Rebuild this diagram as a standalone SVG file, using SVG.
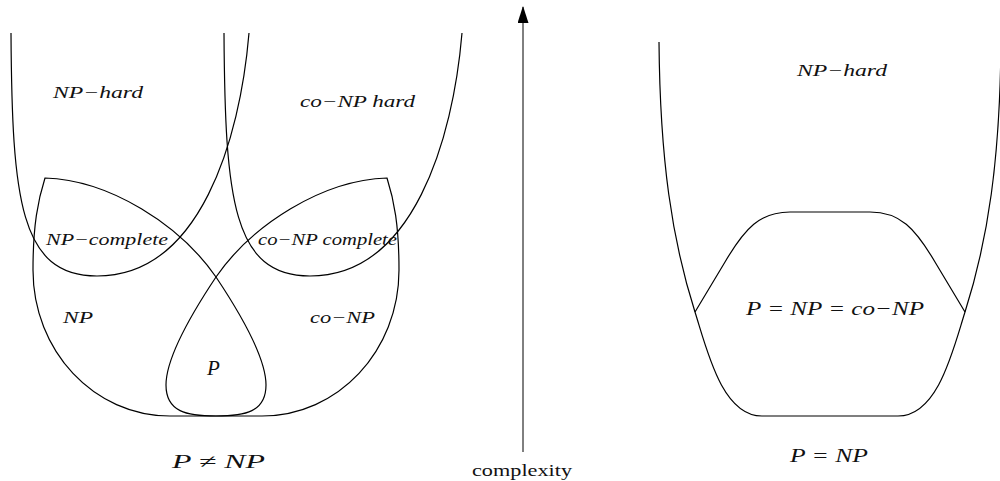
<svg xmlns="http://www.w3.org/2000/svg" width="1000" height="481" viewBox="0 0 1000 481">
<style>
.c{fill:none;stroke:#000;stroke-width:1.2}
.m{font-family:"Liberation Serif","DejaVu Serif",serif;font-style:italic;fill:#111}
.r{font-family:"Liberation Serif","DejaVu Serif",serif;fill:#111}
</style>
<defs>
<marker id="ah" markerWidth="17" markerHeight="11" refX="16" refY="5.5" orient="auto" markerUnits="userSpaceOnUse" viewBox="0 0 17 11">
<path d="M0,0 L17,5.5 L0,11 Z" fill="#000"/>
</marker>
</defs>
<rect width="1000" height="481" fill="#fff"/>
<g id="left-diagram">
<g id="np-hard">
<path class="c" d="M11,33 C12,200 20,276 97,276 C200,276 240,140 249,33"/>
<text class="m" x="53" y="98" font-size="16" textLength="90" lengthAdjust="spacingAndGlyphs">NP−hard</text>
</g>
<g id="conp-hard">
<path class="c" d="M224,33 C225,200 233,276 310,276 C413,276 453,140 462,33"/>
<text class="m" x="300" y="107" font-size="16" textLength="115" lengthAdjust="spacingAndGlyphs">co−NP hard</text>
</g>
<g id="np">
<path class="c" d="M45,178 C110,180 180,225 216,277 C236,307 266,355 266,385 C266,412 245,416 216,416 L170,416 C94,416 33,351 33,270 C33,225 38,200 45,178 Z"/>
<text class="m" x="63" y="323" font-size="17.5" textLength="30" lengthAdjust="spacingAndGlyphs">NP</text>
</g>
<g id="conp">
<path class="c" d="M387,178 C322,180 252,225 216,277 C196,307 166,355 166,385 C166,412 187,416 216,416 L262,416 C338,416 399,351 399,270 C399,225 394,200 387,178 Z"/>
<text class="m" x="310" y="323" font-size="17.5" textLength="65" lengthAdjust="spacingAndGlyphs">co−NP</text>
</g>
<g id="np-complete">
<text class="m" x="46" y="245" font-size="17.5" textLength="122" lengthAdjust="spacingAndGlyphs">NP−complete</text>
</g>
<g id="conp-complete">
<text class="m" x="258" y="245" font-size="17.5" textLength="139" lengthAdjust="spacingAndGlyphs">co−NP complete</text>
</g>
<g id="p">
<text class="m" x="207" y="375" font-size="21">P</text>
</g>
<g id="title-neq">
<text class="m" x="172" y="468" font-size="19.5" textLength="93" lengthAdjust="spacingAndGlyphs">P ≠ NP</text>
</g>
</g>
<g id="connectors">
<line x1="523" y1="452" x2="523" y2="7" stroke="#000" stroke-width="1" marker-end="url(#ah)"/>
</g>
<g id="axis-label">
<text class="r" x="472" y="476" font-size="17" textLength="100" lengthAdjust="spacingAndGlyphs">complexity</text>
</g>
<g id="right-diagram">
<g id="np-hard-right">
<path class="c" d="M659,42 C660,160 672,240 695,312 C707,350 722,416 762,416 L898,416 C938,416 953,350 965,312 C988,240 1000,160 1001,42"/>
<text class="m" x="797" y="76" font-size="16" textLength="90" lengthAdjust="spacingAndGlyphs">NP−hard</text>
</g>
<g id="p-np-conp">
<path class="c" d="M695,312 L725,262 C745,228 760,212 790,212 L870,212 C900,212 915,228 935,262 L965,312"/>
<text class="m" x="746" y="315" font-size="19.5" textLength="178" lengthAdjust="spacingAndGlyphs">P = NP = co−NP</text>
</g>
<g id="title-eq">
<text class="m" x="790" y="462" font-size="19.5" textLength="78" lengthAdjust="spacingAndGlyphs">P = NP</text>
</g>
</g>
</svg>
